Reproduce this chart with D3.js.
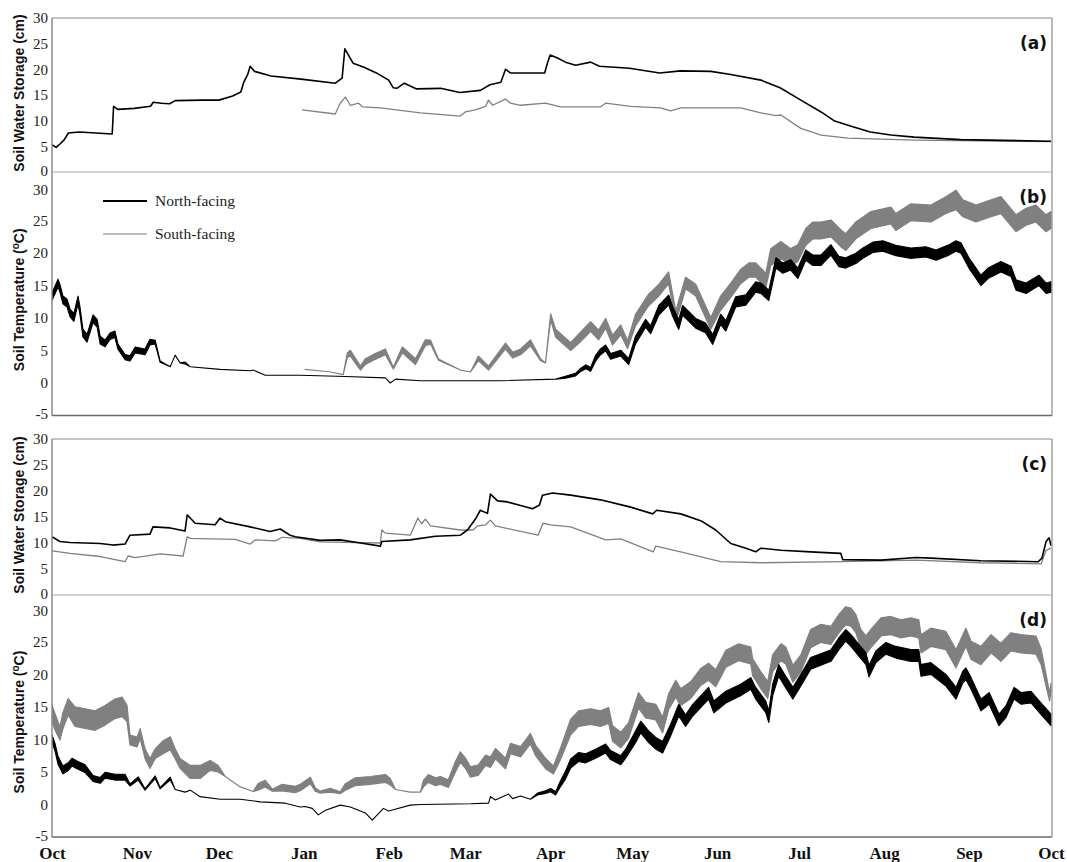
<!DOCTYPE html>
<html lang="en">
<head>
  <meta charset="UTF-8">
  <title>Soil water storage and soil temperature</title>
  <script src="https://d3js.org/d3.v7.min.js"></script>
  <style>
    body { margin: 0; background: #fff; }
  </style>
</head>
<body>
<script>
  // record starts on 1 October, days counted from there
  const startDate = new Date(Date.UTC(2012, 9, 1));
  const endDate = new Date(Date.UTC(2013, 9, 1));

  const monthLabels = ["Oct", "Nov", "Dec", "Jan", "Feb", "Mar", "Apr", "May", "Jun", "Jul", "Aug", "Sep", "Oct"];
  const waterTicks = [0, 5, 10, 15, 20, 25, 30];
  const tempTicks = [-5, 0, 5, 10, 15, 20, 25, 30];
  const seriesNames = ["North-facing", "South-facing"];
  const panelLabels = ["(a)", "(b)", "(c)", "(d)"];

  // (a) soil water storage (cm): [day, value]
  const waterNorthA = [[0,5.3],[1.5,4.8],[3,5.5],[4.5,6.3],[6,7.6],[10,7.8],[16,7.6],[22,7.4],[22.5,12.8],[24,12.2],[30,12.4],[36,12.8],[37,13.6],[40,13.4],[43,13.3],[45,13.9],[55,14],[61,14],[66,14.8],[69,15.6],[70,17.4],[71.5,19],[72.4,20.6],[74,19.6],[80,18.7],[91,18.1],[103.5,17.3],[106,18.3],[107,24],[110,21.2],[114,20.4],[118.5,19.3],[123,17.9],[124.7,16.4],[126,16.3],[128.7,17.3],[133,16.2],[142,16.3],[149,15.5],[156.5,15.9],[160,17],[164,17.5],[165.7,20],[167.5,19.3],[180,19.3],[181,21.2],[182,22.8],[184.7,22.2],[187.6,21.4],[191.3,20.8],[196.8,21.4],[200,20.6],[211,20.2],[222,19.3],[229.7,19.7],[240.7,19.6],[248,19.0],[259,17.9],[266,16.4],[273.6,14],[281,11.7],[285.7,10],[292.6,8.8],[299,7.8],[306.5,7.2],[315,6.8],[332,6.3],[365,6.0]];
  const waterSouthA = [[91.4,12.1],[103.5,11.3],[105.3,13.4],[107.2,14.6],[109,13],[112,13.4],[113.4,12.7],[120,12.5],[134.6,11.5],[149.2,10.9],[151,11.7],[154.7,12.1],[158.4,12.8],[159.5,14],[161,13],[165.7,14.2],[167.5,13.4],[171.2,13],[180.3,13.4],[185.8,12.7],[200.4,12.7],[202.3,13.4],[211.4,12.8],[222.4,12.5],[226,11.9],[229.7,12.5],[251.6,12.5],[259,11.5],[264.5,11],[266.3,11.1],[273.6,8.5],[281,7.2],[290.8,6.6],[315,6.2],[365,5.9]];

  // (b) soil temperature (degC): [day, daily mean, daily range]
  const tempNorthB = [[0,13.3,1.2],[2.2,15.4,1.2],[2.9,14.6,1.2],[4,12.8,1.2],[5.5,12.3,1.2],[6.6,10.8,1.2],[8,10.1,1.2],[9.5,12.8,1.2],[10.2,11.2,1.2],[11.3,7.7,1.2],[12.8,6.9,1.2],[15,9.9,1.2],[16.5,9.2,1.2],[17.6,6.6,1.2],[19.4,6.1,1],[21.2,7.2,1],[23,7.5,1],[24.1,5.6,0.8],[26.7,4.0,0.8],[28.5,3.8,0.8],[30.4,5.1,0.9],[34,4.8,0.9],[35.8,6.3,0.9],[37.7,6.3,0.6],[39.5,3.3,0.2],[43.2,2.5,0],[45,4.3,0],[46.8,3.1,0],[48.6,3.1,0.3],[50.5,2.5,0],[61.4,2.1,0],[72.4,1.9,0],[73.5,2.0,0],[77.9,1.2,0],[90.7,1.2,0],[107.2,1.0,0],[121.8,0.8,0],[123.6,0.0,0],[125.5,0.6,0],[134.6,0.35,0],[163.9,0.35,0],[184,0.6,0],[187.6,0.9,0.3],[191.3,1.3,0.4],[193.1,2.0,0.5],[195,2.5,0.6],[196.8,2.1,0.6],[198.6,3.8,0.9],[200.4,4.8,0.9],[202.3,5.4,0.9],[204.1,4.1,0.9],[207.8,4.6,0.9],[210.7,3.3,0.9],[213.2,6.6,1.2],[216.9,9.2,1.2],[218.7,8.2,1.2],[221.7,11.2,1.5],[225.3,12.8,1.5],[226.8,11.0,1.5],[229,9.0,1.5],[230.4,11.2,1.5],[235.2,9.2,1.5],[238.8,8.5,1.5],[241.4,6.7,1.5],[244.3,9.8,1.6],[246.2,8.8,1.6],[249.8,12.5,1.6],[253.5,12.8,1.6],[257.1,14.8,1.6],[259,14.6,1.6],[261.9,13.5,1.6],[264.5,18.5,1.6],[267,17.7,1.6],[269.9,18.2,1.6],[272.5,16.9,1.6],[275.4,19.7,1.6],[278,18.9,1.6],[280.9,18.9,1.6],[284.6,20.5,1.6],[287.5,18.7,1.6],[290,18.5,1.6],[293.7,19.2,1.6],[296.3,20.0,1.6],[299.9,20.9,1.6],[303.6,21.1,1.6],[308.3,20.4,1.6],[313.8,20.0,1.6],[319.3,20.2,1.6],[323,19.7,1.6],[327.7,20.5,1.6],[330.3,21.1,1.6],[332.1,20.8,1.6],[335,18.5,1.6],[337.6,16.9,1.6],[339.4,15.8,1.6],[342,16.9,1.6],[346.7,17.9,1.6],[350.4,17.2,1.6],[352.2,15.1,1.6],[355.9,14.6,1.6],[360.6,15.8,1.6],[363.2,14.6,1.6],[365,14.8,1.6]];
  const tempSouthB = [[92.5,2.1,0],[101.7,1.7,0],[106.4,1.3,0],[107.9,4.3,0.7],[109,4.6,0.9],[112.7,2.3,0.6],[114.5,3.3,0.9],[118.1,4.1,0.9],[121.8,4.8,0.9],[124.7,2.3,0.3],[128,5.1,0.9],[132.8,3.3,0.9],[136.4,6.2,0.9],[138.3,6.3,0.6],[141.2,3.6,0.2],[149.2,2.0,0],[152.9,1.7,0],[155.8,3.8,0.7],[159.5,2.3,0.6],[165.7,5.7,0.9],[168.3,4.3,0.9],[171.2,4.8,0.9],[174.8,6.2,0.9],[178.5,3.6,0.3],[180.3,3.1,0],[182.2,10.2,0.9],[184,7.7,1.2],[189.5,5.6,1.2],[193.1,7.1,1.5],[196.8,8.7,1.5],[199.7,7.4,1.5],[202.3,9.2,1.5],[204.8,6.6,1.5],[207.8,8.2,1.5],[210.3,5.9,1.2],[213.2,9.7,1.8],[218,12.8,1.8],[221.7,14.3,1.8],[225.3,16.2,1.8],[227.9,10.2,1.8],[231.5,15.4,1.8],[235.2,14.3,1.8],[240.7,9.2,1.8],[244.3,12.3,2.2],[248,14.3,2.2],[251.6,16.4,2.2],[254.6,17.4,2.2],[257.1,17.4,2.2],[260.8,15.8,2.2],[262.6,19.4,2.6],[266.3,20.5,2.6],[269.9,19.4,2.6],[272.5,20.0,2.6],[275.4,22.5,2.6],[278,23.5,2.6],[280.9,23.5,2.6],[284.6,23.8,2.6],[288.2,22.3,2.6],[290,21.7,2.6],[293.7,23.5,2.6],[299.2,25.1,2.6],[306.5,25.8,2.6],[308.3,24.8,2.6],[313.8,26.3,2.6],[321.1,26.1,2.6],[326.6,27.4,2.6],[330.3,28.2,3],[332.8,26.9,2.6],[337.6,26.1,2.6],[343.1,26.9,2.6],[346.7,27.4,2.6],[352.2,24.6,2.6],[355.9,25.6,2.6],[359.5,26.1,2.6],[363.2,24.6,2.6],[365,25.1,2.6]];

  // (c) soil water storage (cm): [day, value]
  const waterNorthC = [[0,11.2],[2.9,10.3],[6.6,10.1],[17.6,9.9],[22.3,9.6],[26.7,9.8],[28.5,11.5],[35.8,11.7],[36.9,13.1],[43.2,12.9],[48.6,12.3],[49.4,15.4],[50.5,14.8],[52.3,13.8],[59.6,13.5],[61.4,14.8],[63.3,14.1],[72.4,13.1],[79.7,12.2],[83.4,12.7],[87,11.5],[88.9,11.2],[98,10.5],[105.3,10.6],[112.7,10.0],[120,9.4],[120.5,10.3],[130.9,10.6],[140.1,11.3],[149.2,11.5],[151.8,12.5],[154.7,14.6],[156.5,16.3],[159.1,15.7],[160.2,19.4],[162.8,18.1],[166.4,17.9],[171.2,17.2],[175.6,16.6],[178.1,17.3],[179.2,19.2],[182.9,19.6],[189.5,19.2],[200.4,18.3],[211.4,16.9],[219.5,15.6],[220.9,16.3],[229.7,15.6],[237,14.3],[242.5,12.5],[248,9.9],[253.5,9.0],[257.1,8.3],[259,9.0],[266.3,8.6],[277.2,8.3],[288.2,8.0],[288.9,6.8],[302.9,6.7],[315.7,7.2],[321.1,7.1],[339.4,6.6],[360.3,6.4],[361.7,7.1],[363.2,10.3],[364.3,11],[365,9.5]];
  const waterSouthC = [[0,8.5],[6.6,8.0],[17.6,7.4],[26.7,6.4],[27.8,7.5],[30.4,7.2],[39.5,7.9],[47.9,7.5],[49.4,11.2],[50.5,10.9],[66.9,10.7],[72.4,9.8],[74.2,10.6],[81.6,10.4],[84.1,11.1],[90.7,10.9],[98,10.2],[120,10.0],[120.5,12.5],[121.8,11.9],[130.9,11.5],[133.7,14.8],[135,13.7],[136.4,14.6],[138.3,13.3],[149.2,12.5],[153.8,12.5],[155.6,13.3],[158.4,13.5],[160.2,14.4],[162,13.3],[177.6,11.5],[179.4,13.8],[182.2,13.5],[189.5,13.1],[202.3,10.6],[207.8,10.8],[219.7,8.3],[220.6,9.4],[229.7,8.3],[244.3,6.4],[259,6.2],[288.9,6.4],[315.7,6.7],[339.4,6.2],[361.4,6.0],[363.2,8.6],[365,9]];

  // (d) soil temperature (degC): [day, daily mean, daily range]
  const tempNorthD = [[0,10.1,1.2],[1.1,8.8,1.2],[2.2,6.8,1.2],[4,5.3,1.2],[5.9,5.8,1.2],[7.3,6.5,1.2],[9.5,6.0,1.2],[12.1,5.5,1.2],[15,4.0,0.9],[17.6,3.7,0.9],[19.4,4.5,0.9],[23,4.2,0.9],[26.7,4.2,0.9],[28.5,3.0,0.3],[31.5,4.0,0.5],[34,2.3,0.2],[37.7,4.2,0.4],[39.5,2.5,0.2],[43.2,4.0,0.4],[45,2.3,0],[48.6,1.9,0],[50.5,2.2,0],[54.1,1.2,0],[61.4,0.8,0],[68.8,0.8,0],[76.1,0.4,0],[85.2,0.2,0],[90.7,-0.4,0],[92.5,-0.3,0],[95.1,-0.6,0],[97.3,-1.6,0],[99.9,-0.9,0],[105.3,-0.1,0],[109,-0.4,0],[114.5,-1.3,0],[117,-2.4,0],[120,-1.1,0],[121.1,-0.6,0],[122.9,-1.0,0],[124.7,-0.8,0],[130.9,-0.1,0],[134.6,0.0,0],[152.9,0.1,0],[159.5,0.2,0],[160.2,1.2,0],[162,0.7,0],[166.8,1.6,0],[168.3,0.9,0],[171.2,1.3,0],[174.8,0.8,0],[177.4,1.6,0.3],[180.3,1.9,0.4],[182.2,2.2,0.5],[184,1.7,0.5],[185.8,3.2,0.9],[187.6,4.5,1.2],[189.5,6.3,1.4],[192.4,7.3,1.4],[195,7.1,1.4],[198.6,7.8,1.4],[202.3,8.6,1.4],[204.1,7.6,1.4],[207.8,6.8,1.4],[209.6,7.8,1.4],[213.2,10.4,1.8],[215.1,11.9,1.8],[218,10.4,1.8],[220.6,9.4,1.8],[223.1,8.8,1.8],[226,11.4,1.8],[229,14.5,1.8],[231.5,12.9,1.8],[234.1,14.5,1.8],[237,15.8,1.8],[239.9,17.1,1.8],[241.8,15.0,1.8],[246.2,16.5,1.8],[251.6,17.6,1.8],[255.3,18.6,1.8],[257.1,17.1,1.8],[260.8,15.0,1.8],[261.9,13.5,1.8],[263.3,17.6,1.8],[265.5,20.6,1.8],[268.1,18.8,1.8],[270.7,17.1,1.8],[273.6,19.1,1.8],[277.2,21.7,1.8],[281.6,22.4,1.8],[284.6,22.9,1.8],[287.5,24.7,1.8],[290,26.0,1.8],[291.9,25.2,1.8],[294.8,23.7,1.8],[297.4,22.4,1.8],[298.5,20.5,1.8],[301,22.7,1.8],[304.7,24.0,1.8],[308.3,23.4,1.8],[313.8,22.9,1.8],[316.7,22.9,1.8],[317.5,20.6,1.8],[321.1,20.9,1.8],[326.6,19.1,1.8],[330.3,17.1,1.8],[332.8,19.6,1.8],[333.9,20.1,1.8],[335.8,18.6,1.8],[339.4,15.3,1.8],[342.4,16.3,1.8],[346,13.0,1.8],[348.6,14.3,1.8],[351.5,17.1,1.8],[354.1,16.3,1.8],[357.7,16.5,1.8],[361.4,14.7,1.8],[365,13.0,1.8]];
  const tempSouthD = [[0,14.0,2.5],[1.1,12.7,2.5],[2.9,10.9,2],[4,12.9,2.5],[5.9,15.0,2.5],[8.4,13.5,3],[12.1,13.2,3],[15.7,12.9,3],[19.4,13.7,3],[23,14.7,3],[25.6,15.0,3],[27.4,14.0,2.5],[28.5,9.9,1.5],[31.1,9.6,1.5],[32.2,10.9,1.5],[34,7.8,1.5],[35.8,6.3,1.5],[37.7,7.8,1.5],[40.6,8.8,2],[43.2,9.4,2],[45,7.8,1.5],[46.8,6.3,1.5],[50.5,5.0,2],[54.1,5.0,2],[57.8,6.0,1.5],[60.7,5.5,1],[63.3,4.3,0],[68.8,2.7,0],[73.5,2.0,0],[75.3,2.7,1],[77.9,3.2,1],[80.5,2.2,0.3],[84.1,2.6,1],[88.9,2.3,1],[90.7,2.6,1],[94.4,3.7,1],[96.2,2.3,0.5],[98,1.9,0.3],[101.7,2.2,0.6],[105.3,1.8,0.3],[107.2,2.7,1],[110.8,3.5,1.2],[116.3,3.7,1.2],[121.8,4.0,1.2],[123.6,3.5,1],[125.5,2.3,0],[130.9,1.9,0],[134.6,1.9,0],[135.7,3.2,1],[137.5,4.0,1.2],[140.1,3.5,1.2],[141.9,3.7,1.2],[144.8,3.2,1.2],[147.4,5.8,1.6],[149.2,7.3,1.6],[151.1,6.3,1.6],[152.9,5.0,1.6],[155.8,5.3,1.6],[158.4,6.8,1.6],[160.2,6.5,1.6],[162,7.8,1.6],[165.7,6.3,1.6],[167.5,8.6,1.6],[171.2,8.1,1.6],[174.8,10.1,1.6],[176.7,8.3,1.6],[180.3,6.3,1.6],[183.2,5.3,1.2],[185.8,7.8,1.8],[189.5,11.9,2.4],[192.4,13.2,2.4],[196.8,13.5,2.4],[200.4,13.2,2.4],[203.4,13.7,2.4],[204.8,10.9,2.4],[207.8,9.9,2.4],[210.7,11.4,2.4],[214.3,16.0,2.4],[216.9,14.5,2.4],[220.6,14.2,2.4],[223.1,12.2,2.4],[225.3,15.8,2.4],[227.9,17.8,2.6],[229.7,16.5,2.6],[233.4,17.6,2.6],[237,19.6,2.6],[239.9,20.4,2.6],[242.5,19.4,2.6],[246.2,22.4,2.6],[250.9,23.4,2.6],[255.3,22.9,2.6],[256,21.1,2.6],[259,19.1,2.6],[261.5,17.6,2.6],[263.3,21.7,2.6],[266.3,23.4,2.6],[268.1,22.9,2.6],[270.7,20.1,2.6],[273.6,21.7,2.6],[277.2,25.5,2.8],[280.9,26.3,2.8],[284.6,26.0,2.8],[287.5,27.8,2.8],[290,29.0,2.8],[291.9,28.8,2.8],[293.7,27.8,2.8],[295.5,25.5,2.8],[297.4,24.5,2.8],[299.2,25.5,2.8],[302.9,27.3,2.8],[306.5,27.5,2.8],[310.2,27.0,2.8],[313.8,27.3,2.8],[316.7,27.0,2.8],[317.5,24.7,2.8],[321.1,25.7,2.8],[326.6,25.2,2.8],[330.3,22.4,2.8],[333.9,25.7,2.8],[335.8,23.7,2.8],[339.4,22.9,2.8],[343.1,24.7,2.8],[346.7,23.4,2.8],[350.4,25.0,2.8],[354.1,24.7,2.8],[359.5,24.5,2.8],[361.4,22.7,2.4],[363.2,19.1,1.8],[364.5,16.5,1.2],[365,18,1.2]];

  const width = 1067, height = 862;
  const plotLeft = 52, plotRight = 1052;
  const northColor = "#000", southColor = "#808080";

  const svg = d3.select("body")
    .append("svg")
    .attr("width", width)
    .attr("height", height)
    .style("font-family", "'Liberation Serif', serif");

  const x = d3.scaleUtc()
    .domain([startDate, endDate])
    .range([plotLeft, plotRight - 1]);

  const dayDate = d => new Date(startDate.getTime() + d * 864e5);

  // four stacked panels in two boxes
  const panels = [
    { kind: "water", top: 18, bottom: 172, domain: [0, 30], north: waterNorthA, south: waterSouthA, label: panelLabels[0] },
    { kind: "temp", top: 172, bottom: 415.5, domain: [-5, 32.5], north: tempNorthB, south: tempSouthB, label: panelLabels[1] },
    { kind: "water", top: 439, bottom: 595, domain: [0, 30], north: waterNorthC, south: waterSouthC, label: panelLabels[2] },
    { kind: "temp", top: 595, bottom: 837, domain: [-5, 32.2], north: tempNorthD, south: tempSouthD, label: panelLabels[3] }
  ];

  const defs = svg.append("defs");

  panels.forEach((p, i) => {
    const y = d3.scaleLinear().domain(p.domain).range([p.bottom, p.top]);

    defs.append("clipPath")
      .attr("id", "clip" + i)
      .append("rect")
      .attr("x", plotLeft)
      .attr("y", p.top)
      .attr("width", plotRight - plotLeft)
      .attr("height", p.bottom - p.top);

    const g = svg.append("g").attr("clip-path", `url(#clip${i})`);

    if (p.kind === "water") {
      const line = d3.line()
        .x(d => x(dayDate(d[0])))
        .y(d => y(d[1]));
      g.append("path")
        .datum(p.south)
        .attr("d", line)
        .attr("fill", "none")
        .attr("stroke", southColor)
        .attr("stroke-width", 1.3)
        .attr("stroke-linejoin", "round");
      g.append("path")
        .datum(p.north)
        .attr("d", line)
        .attr("fill", "none")
        .attr("stroke", northColor)
        .attr("stroke-width", 1.6)
        .attr("stroke-linejoin", "round");
    } else {
      // daily range drawn as a band, so the diurnal swing reads as a thick trace
      const band = d3.area()
        .x(d => x(dayDate(d[0])))
        .y0(d => y(d[1] - d[2] / 2))
        .y1(d => y(d[1] + d[2] / 2));
      g.append("path")
        .datum(p.south)
        .attr("d", band)
        .attr("fill", southColor)
        .attr("stroke", southColor)
        .attr("stroke-width", 1.2)
        .attr("stroke-linejoin", "round");
      g.append("path")
        .datum(p.north)
        .attr("d", band)
        .attr("fill", northColor)
        .attr("stroke", northColor)
        .attr("stroke-width", 1.1)
        .attr("stroke-linejoin", "round");
    }

    // y axis
    const axis = svg.append("g")
      .attr("transform", `translate(${plotLeft},0)`)
      .call(d3.axisLeft(y)
        .tickValues(p.kind === "water" ? waterTicks : tempTicks)
        .tickFormat(d => String(d))
        .tickSize(0)
        .tickPadding(4));
    axis.select(".domain")
      .attr("stroke", "#8a8a8a")
      .attr("stroke-width", 1.5)
      .attr("d", `M0,${p.top}V${p.bottom}`);
    axis.selectAll("text")
      .attr("fill", "#222")
      .style("font-family", "'Liberation Serif', serif")
      .style("font-size", "15px");
    // labels that sit right against the neighbouring panel get a small nudge
    axis.selectAll(".tick text")
      .filter(d => (p.kind === "water" && d === 0) || (p.kind === "temp" && d === 30))
      .attr("transform", `translate(0,${p.kind === "water" ? -1.5 : 1.5})`);
    axis.selectAll(".tick text")
      .filter(d => p.kind === "temp" && d === -5)
      .attr("transform", "translate(0,-1.5)");

    // axis title
    const title = svg.append("text")
      .attr("transform", `translate(24,${(p.top + p.bottom) / 2 + (p.kind === "temp" ? 6 : -2)}) rotate(-90)`)
      .attr("text-anchor", "middle")
      .style("font-family", "'Liberation Sans', Arial, sans-serif")
      .style("font-weight", "bold")
      .style("font-size", "14px")
      .attr("fill", "#111");
    if (p.kind === "water") {
      title.text("Soil Water Storage (cm)");
    } else {
      title.append("tspan").text("Soil Temperature (");
      title.append("tspan").attr("dy", -5).style("font-size", "10px").text("o");
      title.append("tspan").attr("dy", 5).text("C)");
    }

    // panel letter
    svg.append("text")
      .attr("x", plotRight - 5)
      .attr("y", p.top + 31)
      .attr("text-anchor", "end")
      .style("font-family", "'DejaVu Sans', sans-serif")
      .style("font-weight", "bold")
      .style("font-size", "17px")
      .attr("fill", "#111")
      .text(p.label);
  });

  // frames: tops, right edge, bottoms, dividers
  [[18, 415.5], [439, 837]].forEach(([t, b]) => {
    svg.append("line")
      .attr("x1", plotLeft).attr("x2", plotRight)
      .attr("y1", t).attr("y2", t)
      .attr("stroke", "#8a8a8a").attr("stroke-width", 1.2);
    svg.append("line")
      .attr("x1", plotRight).attr("x2", plotRight)
      .attr("y1", t).attr("y2", b)
      .attr("stroke", "#8a8a8a").attr("stroke-width", 1.2);
    svg.append("line")
      .attr("x1", plotLeft).attr("x2", plotRight)
      .attr("y1", b).attr("y2", b)
      .attr("stroke", "#6a6a6a").attr("stroke-width", 1.5);
  });
  [172, 595].forEach(yy => {
    svg.append("line")
      .attr("x1", plotLeft).attr("x2", plotRight)
      .attr("y1", yy).attr("y2", yy)
      .attr("stroke", "#a8a8a8").attr("stroke-width", 1.2);
  });

  // month axis along the bottom
  const monthTicks = d3.utcMonth.range(startDate, d3.utcDay.offset(endDate, 1));
  const xAxis = svg.append("g")
    .attr("transform", "translate(0,837)")
    .call(d3.axisBottom(x)
      .tickValues(monthTicks)
      .tickFormat((d, i) => monthLabels[i])
      .tickSize(0)
      .tickPadding(10));
  xAxis.select(".domain").remove();
  xAxis.selectAll("text")
    .attr("fill", "#111")
    .style("font-family", "'Liberation Serif', serif")
    .style("font-weight", "bold")
    .style("font-size", "17px");

  // legend inside panel (b)
  const legendY = [201, 234];
  const legendStroke = [1.8, 1.2];
  const legendColor = [northColor, southColor];
  seriesNames.forEach((name, i) => {
    svg.append("line")
      .attr("x1", 103).attr("x2", 147)
      .attr("y1", legendY[i]).attr("y2", legendY[i])
      .attr("stroke", legendColor[i])
      .attr("stroke-width", legendStroke[i]);
    svg.append("text")
      .attr("x", 155)
      .attr("y", legendY[i])
      .attr("dy", "0.35em")
      .style("font-size", "15.5px")
      .attr("fill", "#222")
      .text(name);
  });
</script>
</body>
</html>
